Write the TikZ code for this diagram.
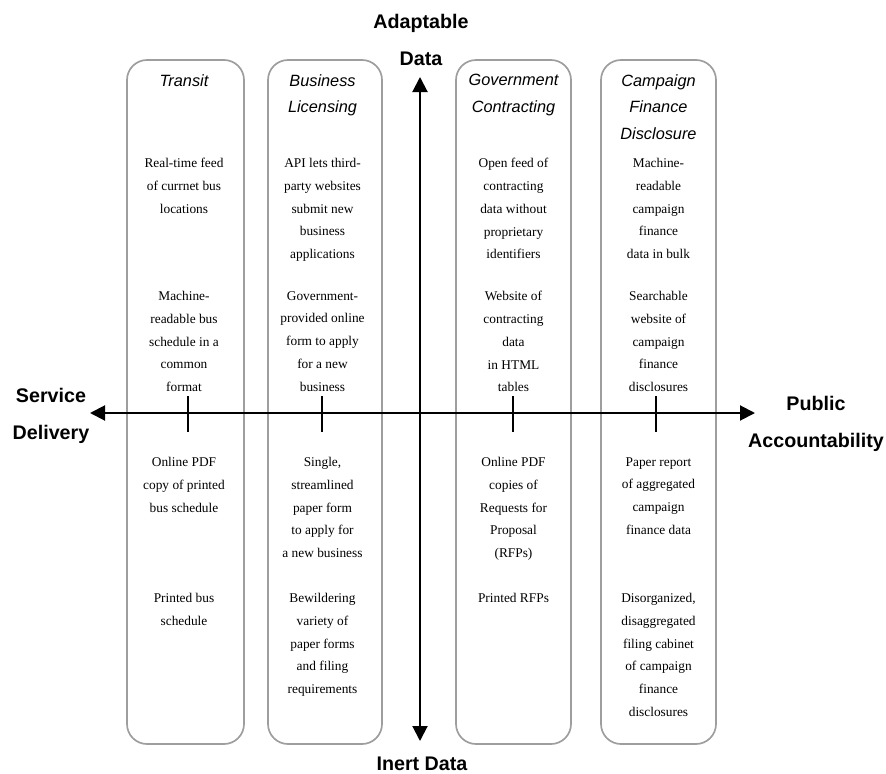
\documentclass[tikz,border=0pt]{standalone}
\usepackage{fontspec}
\setmainfont{Liberation Serif}
\setsansfont{Liberation Sans}
\usetikzlibrary{arrows.meta}

\definecolor{panelgray}{RGB}{158,158,158}

\tikzset{
  panel/.style={draw=panelgray, line width=1.2pt, rounded corners=0.5cm},
  axis/.style={line width=1.4pt,
    {Triangle[length=0.375cm,width=0.375cm]}-{Triangle[length=0.375cm,width=0.375cm]}},
  tickmark/.style={line width=1.4pt},
  paneltitle/.style={font={\sffamily\itshape\fontsize{11.6}{18.9}\selectfont},
    align=center, anchor=north, inner sep=0pt},
  entry/.style={font={\fontsize{9.5}{16.2}\selectfont},
    align=center, anchor=north, inner sep=0pt},
  axislabel/.style={font={\sffamily\bfseries\fontsize{14}{26.3}\selectfont},
    align=center, inner sep=0pt}
}

\begin{document}
\begin{tikzpicture}[x=0.025cm,y=-0.025cm]
            \useasboundingbox (0,0) rectangle (886,774);
                % panels
                \draw[panel] (127,60) rectangle (244,744);
                \draw[panel] (268,60) rectangle (382,744);
                \draw[panel] (456,60) rectangle (571,744);
                \draw[panel] (601,60) rectangle (716,744);
                % axes
                \coordinate (leftend) at (90,413);
                \coordinate (rightend) at (755,413);
                \coordinate (topend) at (420,77);
                \coordinate (bottomend) at (420,741);
                \draw[axis] (leftend) -- (rightend);
                \draw[axis] (bottomend) -- (topend);
                \draw[tickmark] (188,396) -- (188,432);
                \draw[tickmark] (322,396) -- (322,432);
                \draw[tickmark] (513,396) -- (513,432);
                \draw[tickmark] (656,396) -- (656,432);
                % axis labels
                \node[axislabel, anchor=north] (adaptable) at (421,14) {Adaptable\\Data};
                \node[axislabel, anchor=base] (inert) at (422,770) {Inert Data};
                \node[axislabel, anchor=north] (service) at (51,388) {Service\\Delivery};
                \node[axislabel, anchor=north] (public) at (816,396) {Public\\Accountability};
                % transit
                \node[paneltitle] (transit) at (184,74) {Transit};
                \node[entry] (transitA) at (184,158) {Real-time feed\\of currnet bus\\locations};
                \node[entry] (transitB) at (184,291) {Machine-\\readable bus\\schedule in a\\common\\format};
                \node[entry] (transitC) at (184,457) {Online PDF\\copy of printed\\bus schedule};
                \node[entry] (transitD) at (184,593) {Printed bus\\schedule};
                % business licensing
                \node[paneltitle] (licensing) at (322.5,74) {Business\\Licensing};
                \node[entry] (licensingA) at (322.5,158) {API lets third-\\party websites\\submit new\\business\\applications};
                \node[entry] (licensingB) at (322.5,291) {Government-\\provided online\\form to apply\\for a new\\business};
                \node[entry] (licensingC) at (322.5,457) {Single,\\streamlined\\paper form\\to apply for\\a new business};
                \node[entry] (licensingD) at (322.5,593) {Bewildering\\variety of\\paper forms\\and filing\\requirements};
                % government contracting
                \node[paneltitle] (contracting) at (513.5,74) {Government\\Contracting};
                \node[entry] (contractingA) at (513.5,158) {Open feed of\\contracting\\data without\\proprietary\\identifiers};
                \node[entry] (contractingB) at (513.5,291) {Website of\\contracting\\data\\in HTML\\tables};
                \node[entry] (contractingC) at (513.5,457) {Online PDF\\copies of\\Requests for\\Proposal\\(RFPs)};
                \node[entry] (contractingD) at (513.5,593) {Printed RFPs};
                % campaign finance disclosure
                \node[paneltitle] (campaign) at (658.5,74) {Campaign\\Finance\\Disclosure};
                \node[entry] (campaignA) at (658.5,158) {Machine-\\readable\\campaign\\finance\\data in bulk};
                \node[entry] (campaignB) at (658.5,291) {Searchable\\website of\\campaign\\finance\\disclosures};
                \node[entry] (campaignC) at (658.5,457) {Paper report\\of aggregated\\campaign\\finance data};
                \node[entry] (campaignD) at (658.5,593) {Disorganized,\\disaggregated\\filing cabinet\\of campaign\\finance\\disclosures};
            \end{tikzpicture}
\end{document}
